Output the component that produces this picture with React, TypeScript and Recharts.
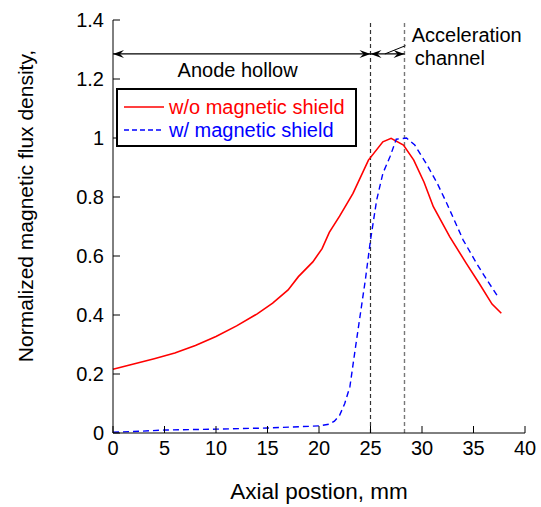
import { LineChart, Line, XAxis, YAxis, ReferenceLine, ReferenceDot, Legend } from "recharts";

// axis ticks
const xTicks = [0, 5, 10, 15, 20, 25, 30, 35, 40];
const yTicks = [0, 0.2, 0.4, 0.6, 0.8, 1, 1.2, 1.4];

// w/o magnetic shield
const noShieldX = [0, 2, 4, 6, 8, 10, 12, 14, 15.5, 17, 18, 19.4, 20.3, 21, 22, 23.3, 24.8, 26.2, 27, 28.2, 29.2, 30.2, 31.1, 32.7, 34.3, 35.5, 36.8, 37.7];
const noShieldY = [0.216, 0.234, 0.252, 0.271, 0.297, 0.327, 0.363, 0.404, 0.44, 0.485, 0.53, 0.58, 0.625, 0.68, 0.735, 0.812, 0.925, 0.987, 0.999, 0.976, 0.925, 0.85, 0.767, 0.665, 0.575, 0.51, 0.437, 0.406];

// w/ magnetic shield (blue dashed curve)
const shieldX = [0, 2, 5, 10, 15, 20, 21, 21.5, 22, 22.5, 23, 23.5, 24, 24.5, 25, 25.6, 26.2, 26.9, 27.5, 28.5, 29.3, 30.5, 31.5, 32.4, 34, 35.3, 36.3, 37.3];
const shieldY = [0.003, 0.005, 0.01, 0.013, 0.017, 0.024, 0.03, 0.04, 0.06, 0.1, 0.157, 0.28, 0.4, 0.519, 0.654, 0.79, 0.88, 0.937, 0.996, 1.0, 0.976, 0.908, 0.845, 0.779, 0.654, 0.575, 0.519, 0.466];

const seriesNames = ["w/o magnetic shield", "w/ magnetic shield"];
const seriesColors = ["#ff0000", "#0000ff"];

// region bounds: anode hollow 0..25, acceleration channel 25..28.3
const regionBounds = [0, 25, 28.3];
const arrowLevel = 1.285;

const noShieldData = noShieldX.map((x, i) => ({ x, y: noShieldY[i] }));
const shieldData = shieldX.map((x, i) => ({ x, y: shieldY[i] }));

const FONT = '"Liberation Sans", Arial, sans-serif';

function BottomTick(props: any) {
  const { x, y, payload } = props;
  return (
    <g>
      <line x1={x} y1={y - 8} x2={x} y2={y - 15} stroke="#000" />
      <text x={x} y={y} dy="0.71em" textAnchor="middle" fontSize={20} fill="#000">
        {payload.value}
      </text>
    </g>
  );
}

function LeftTick(props: any) {
  const { x, y, payload } = props;
  return (
    <g>
      <line x1={x + 9} y1={y} x2={x + 16} y2={y} stroke="#000" />
      <text x={x} y={y} dy="0.355em" textAnchor="end" fontSize={20} fill="#000">
        {payload.value}
      </text>
    </g>
  );
}

// double headed arrow drawn on a reference segment
function ArrowSegment(props: any) {
  const { x1, y1, x2, y2 } = props;
  const head = (x: number, dir: number) =>
    `M${x},${y1} L${x - dir * 11},${y1 - 4} L${x - dir * 7},${y1} L${x - dir * 11},${y1 + 4} Z`;
  return (
    <g>
      <line x1={x1} y1={y1} x2={x2} y2={y2} stroke="#000" strokeWidth={1.3} />
      <path d={head(x1, -1)} fill="#000" />
      <path d={head(x2, 1)} fill="#000" />
    </g>
  );
}

const renderLegend = () => (
  <div style={{ width: 241, height: 59, border: "2px solid #000", background: "#fff", boxSizing: "border-box" }}>
    <svg width={237} height={55} style={{ display: "block" }}>
      <line x1={6} y1={17} x2={46} y2={17} stroke={seriesColors[0]} strokeWidth={1.6} />
      <text x={51} y={17} dy="0.355em" fontSize={20} fill={seriesColors[0]}>{seriesNames[0]}</text>
      <line x1={6} y1={40} x2={46} y2={40} stroke={seriesColors[1]} strokeWidth={1.4} strokeDasharray="5 3" />
      <text x={51} y={40} dy="0.355em" fontSize={20} fill={seriesColors[1]}>{seriesNames[1]}</text>
    </svg>
  </div>
);

export default function App() {
  return (
    <div style={{ position: "absolute", left: 0, top: 0, fontFamily: FONT, background: "#fff" }}>
      <LineChart width={541} height={507} margin={{ top: 20, right: 16, bottom: 44, left: 53 }}>
        <XAxis
          xAxisId="bottom"
          type="number"
          dataKey="x"
          domain={[0, 40]}
          ticks={xTicks}
          tickSize={0}
          tickMargin={8}
          tickLine={false}
          tick={<BottomTick />}
          axisLine={{ stroke: "#000" }}
          height={30}
          label={{ value: "Axial postion, mm", position: "bottom", offset: 20, fontSize: 22.5, fill: "#000" }}
        />
        <XAxis
          xAxisId="top"
          orientation="top"
          type="number"
          dataKey="x"
          domain={[0, 40]}
          ticks={xTicks}
          mirror
          tickSize={7}
          tickFormatter={() => ""}
          tickLine={{ stroke: "#555" }}
          axisLine={{ stroke: "#666" }}
          height={0}
        />
        <YAxis
          yAxisId="left"
          type="number"
          domain={[0, 1.4]}
          ticks={yTicks}
          tickSize={0}
          tickMargin={9}
          tickLine={false}
          tick={<LeftTick />}
          axisLine={{ stroke: "#000" }}
          width={60}
          label={{
            value: "Normalized magnetic flux density,",
            content: () => (
              <text x={26} y={206} transform="rotate(-90 26 206)" textAnchor="middle" dy="0.355em" fontSize={21} fill="#000">
                Normalized magnetic flux density,
              </text>
            ),
          }}
        />
        <YAxis
          yAxisId="right"
          orientation="right"
          type="number"
          domain={[0, 1.4]}
          ticks={yTicks}
          mirror
          tickSize={7}
          tickFormatter={() => ""}
          tickLine={{ stroke: "#555" }}
          axisLine={{ stroke: "#666" }}
          width={0}
        />

        <ReferenceLine xAxisId="bottom" yAxisId="left" x={regionBounds[1]} stroke="#333" strokeDasharray="4 3" strokeWidth={1.2} />
        <ReferenceLine xAxisId="bottom" yAxisId="left" x={regionBounds[2]} stroke="#777" strokeDasharray="4 3" strokeWidth={1.4} />

        <ReferenceLine
          xAxisId="bottom"
          yAxisId="left"
          segment={[{ x: regionBounds[0], y: arrowLevel }, { x: regionBounds[1], y: arrowLevel }]}
          shape={ArrowSegment}
        />
        <ReferenceLine
          xAxisId="bottom"
          yAxisId="left"
          segment={[{ x: regionBounds[1], y: arrowLevel }, { x: regionBounds[2], y: arrowLevel }]}
          shape={ArrowSegment}
        />
        <ReferenceLine
          xAxisId="bottom"
          yAxisId="left"
          segment={[{ x: 26.4, y: arrowLevel }, { x: 28.4, y: 1.313 }]}
          stroke="#000"
          strokeWidth={1}
        />

        <ReferenceDot
          xAxisId="bottom"
          yAxisId="left"
          x={12.1}
          y={1.231}
          r={0}
          shape={() => <g />}
          label={{ value: "Anode hollow", position: "center", fontSize: 20, fill: "#000" }}
        />
        <ReferenceDot
          xAxisId="bottom"
          yAxisId="left"
          x={29.0}
          y={1.349}
          r={0}
          shape={() => <g />}
          label={{ value: "Acceleration", position: "right", offset: 0, fontSize: 20, fill: "#000" }}
        />
        <ReferenceDot
          xAxisId="bottom"
          yAxisId="left"
          x={29.3}
          y={1.271}
          r={0}
          shape={() => <g />}
          label={{ value: "channel", position: "right", offset: 0, fontSize: 20, fill: "#000" }}
        />

        <Line
          xAxisId="bottom"
          yAxisId="left"
          data={noShieldData}
          dataKey="y"
          name={seriesNames[0]}
          type="linear"
          stroke={seriesColors[0]}
          strokeWidth={1.6}
          dot={false}
          isAnimationActive={false}
        />
        <Line
          xAxisId="bottom"
          yAxisId="left"
          data={shieldData}
          dataKey="y"
          name={seriesNames[1]}
          type="linear"
          stroke={seriesColors[1]}
          strokeWidth={1.4}
          strokeDasharray="6 4"
          dot={false}
          isAnimationActive={false}
        />

        <Legend
          layout="vertical"
          align="center"
          verticalAlign="middle"
          content={renderLegend}
          wrapperStyle={{ left: 116, top: 88, width: 241, height: 59 }}
        />
      </LineChart>
    </div>
  );
}
